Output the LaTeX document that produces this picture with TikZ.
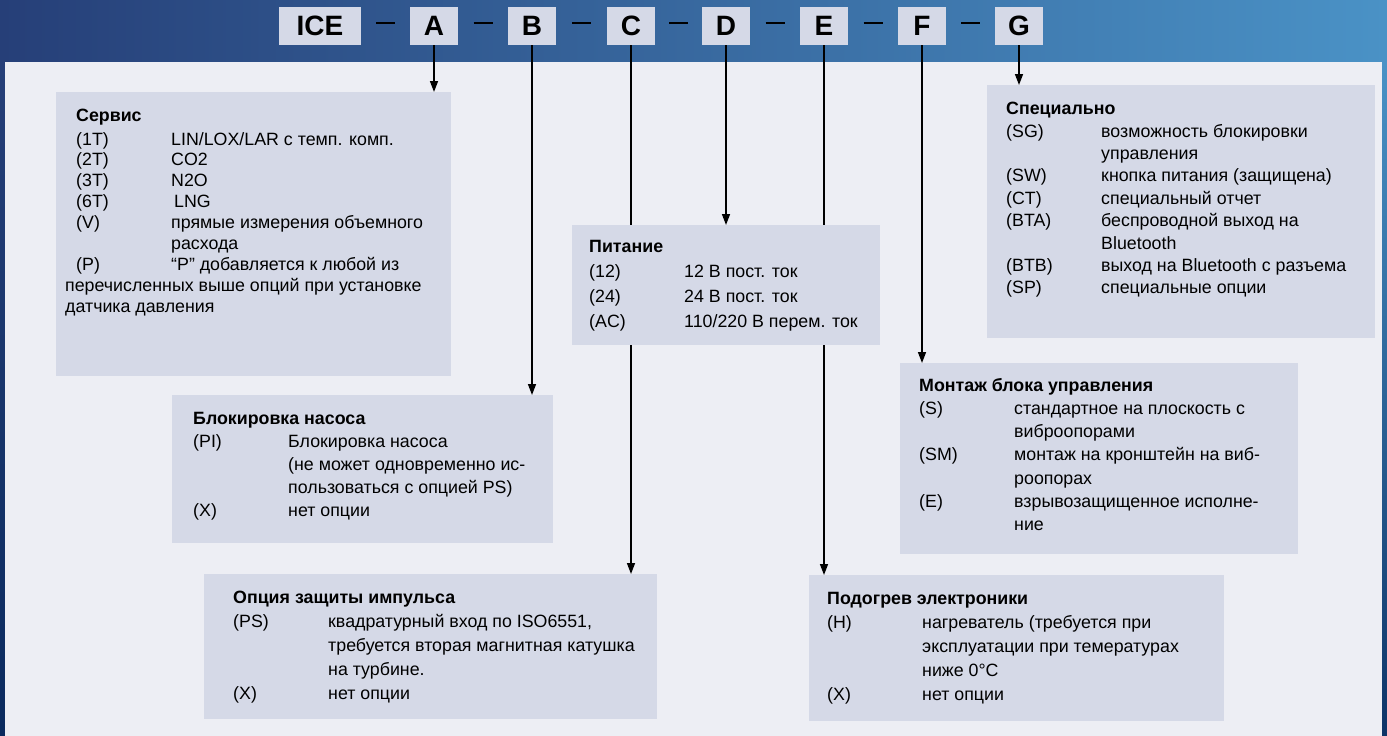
\documentclass[tikz,border=0pt]{standalone}
\usepackage{fontspec}
\setmainfont{Liberation Sans}
\usetikzlibrary{arrows.meta,calc}
\definecolor{hdrleft}{HTML}{263F78}
\definecolor{hdrmid}{HTML}{1F5B8D}
\definecolor{hdrright}{HTML}{4A92C6}
\definecolor{hdrnavy}{HTML}{0A2A5E}
\definecolor{panel}{HTML}{EDEEF4}
\definecolor{boxfill}{HTML}{D5D9E7}
\tikzset{
  keybox/.style={fill=boxfill, inner sep=0pt, minimum width=48pt, minimum height=38pt, font=\fontsize{28}{30}\selectfont\bfseries},
  optbox/.style={fill=boxfill, inner sep=0pt, anchor=north west},
  opttext/.style={anchor=north west, align=left, inner sep=0pt, font=\fontsize{17.8}{#1}\selectfont},
  opttext/.default=22,
  arrowline/.style={-{Triangle[length=11pt,width=8pt]}, line width=1.5pt},
  plainline/.style={line width=1.5pt},
  dashline/.style={line width=2pt}
}
\newcommand{\optrow}[2]{\makebox[95pt][l]{#1}#2}
\newcommand{\optcont}[1]{\hspace*{95pt}#1}

\begin{document}
\begin{tikzpicture}[x=1pt, y=-1pt]
  \useasboundingbox (0,0) rectangle (1387,736);
  \shade[left color=hdrleft, middle color=hdrmid, right color=hdrright] (0,0) rectangle (1387,736);
  \shade[top color=hdrleft, bottom color=hdrnavy] (0,62) rectangle (5,736);
  \shade[top color=hdrright, bottom color=hdrnavy!80!hdrmid] (1382,62) rectangle (1387,736);
  \fill[panel] (5,62) rectangle (1382,736);

  \node[keybox, minimum width=82pt] (ice) at (320,26) {ICE};
  \foreach \n/\x in {A/434,B/532,C/631,D/726,E/824,F/922,G/1019}
    \node[keybox] (\n) at (\x,26) {\n};
  \foreach \p/\q in {ice/A,A/B,B/C,C/D,D/E,E/F,F/G}
    \draw[dashline] ($(\p.east)!.5!(\q.west)+(-9.5,-3)$) -- ++(19,0);

  \node[optbox, minimum width=395pt, minimum height=284pt] (serv) at (56,92) {};
  \node[optbox, minimum width=381pt, minimum height=148pt] (pump) at (172,395) {};
  \node[optbox, minimum width=453pt, minimum height=145pt] (pulse) at (204,574) {};
  \node[optbox, minimum width=308pt, minimum height=120pt] (power) at (572,225) {};
  \node[optbox, minimum width=415pt, minimum height=146pt] (heat) at (809,575) {};
  \node[optbox, minimum width=398pt, minimum height=191pt] (mount) at (900,363) {};
  \node[optbox, minimum width=388pt, minimum height=253pt] (spec) at (987,85) {};

  \node[opttext=20.9] (servtxt) at ([shift={(20,17)}]serv.north west) {\textbf{Сервис}\\[2.5pt]
    \optrow{(1T)}{LIN/LOX/LAR с темп. комп.}\\
    \optrow{(2T)}{CO2}\\
    \optrow{(3T)}{N2O}\\
    \optrow{(6T)}{\,LNG}\\
    \optrow{(V)}{прямые измерения объемного}\\
    \optcont{расхода}\\
    \optrow{(P)}{“P” добавляется к любой из}\\
    \hspace*{-11pt}перечисленных выше опций при установке\\
    \hspace*{-11pt}датчика давления};
  \node[opttext=23] (pumptxt) at ([shift={(21,17)}]pump.north west) {\textbf{Блокировка насоса}\\
    \optrow{(PI)}{Блокировка насоса}\\
    \optcont{(не может одновременно ис-}\\
    \optcont{пользоваться с опцией PS)}\\
    \optrow{(X)}{нет опции}};
  \node[opttext=24] (pulsetxt) at ([shift={(29,17)}]pulse.north west) {\textbf{Опция защиты импульса}\\
    \optrow{(PS)}{квадратурный вход по ISO6551,}\\
    \optcont{требуется вторая магнитная катушка}\\
    \optcont{на турбине.}\\
    \optrow{(X)}{нет опции}};
  \node[opttext=25] (powertxt) at ([shift={(17,15)}]power.north west) {\textbf{Питание}\\
    \optrow{(12)}{12 В пост. ток}\\
    \optrow{(24)}{24 В пост. ток}\\
    \optrow{(AC)}{110/220 В перем. ток}};
  \node[opttext=24] (heattxt) at ([shift={(18,17)}]heat.north west) {\textbf{Подогрев электроники}\\
    \optrow{(H)}{нагреватель (требуется при}\\
    \optcont{эксплуатации при темературах}\\
    \optcont{ниже 0°C}\\
    \optrow{(X)}{нет опции}};
  \node[opttext=23.2] (mounttxt) at ([shift={(19,15)}]mount.north west) {\textbf{Монтаж блока управления}\\
    \optrow{(S)}{стандартное на плоскость с}\\
    \optcont{виброопорами}\\
    \optrow{(SM)}{монтаж на кронштейн на виб-}\\
    \optcont{роопорах}\\
    \optrow{(E)}{взрывозащищенное исполне-}\\
    \optcont{ние}};
  \node[opttext=22.4] (spectxt) at ([shift={(19,17)}]spec.north west) {\textbf{Специально}\\
    \optrow{(SG)}{возможность блокировки}\\
    \optcont{управления}\\
    \optrow{(SW)}{кнопка питания (защищена)}\\
    \optrow{(CT)}{специальный отчет}\\
    \optrow{(BTA)}{беспроводной выход на}\\
    \optcont{Bluetooth}\\
    \optrow{(BTB)}{выход на Bluetooth с разъема}\\
    \optrow{(SP)}{специальные опции}};

  \draw[arrowline] (A.south) -- (A |- serv.north);
  \draw[arrowline] (B.south) -- (B |- pump.north);
  \draw[plainline] (C.south) -- (C |- power.north);
  \draw[arrowline] (C |- power.south) -- (C |- pulse.north);
  \draw[arrowline] (D.south) -- (D |- power.north);
  \draw[plainline] (E.south) -- (E |- power.north);
  \draw[arrowline] (E |- power.south) -- (E |- heat.north);
  \draw[arrowline] (F.south) -- (F |- mount.north);
  \draw[arrowline] (G.south) -- (G |- spec.north);
\end{tikzpicture}
\end{document}
